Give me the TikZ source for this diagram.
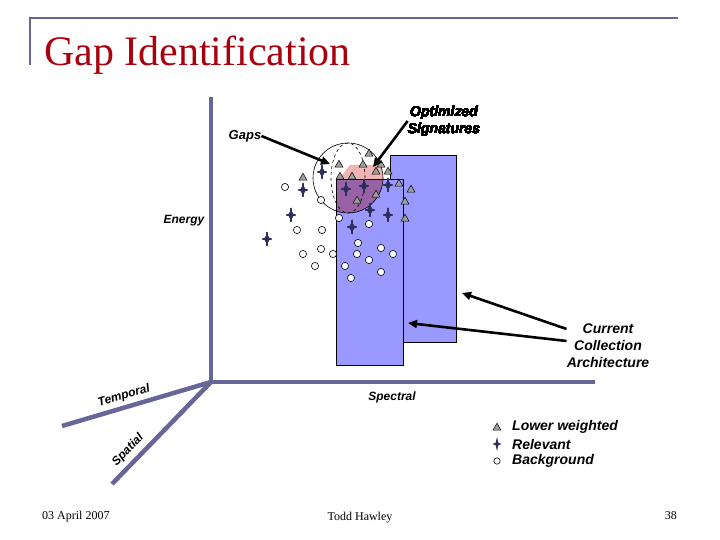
\documentclass[tikz,border=0pt]{standalone}
\usepackage{fontspec}
\setmainfont{Liberation Serif}
\setsansfont{Liberation Sans}
\usetikzlibrary{positioning,arrows.meta,calc}
\definecolor{osabarva}{HTML}{666699}
\definecolor{obdel}{HTML}{9999FF}
\definecolor{ruzova}{HTML}{F0B4B4}
\definecolor{fialova}{HTML}{9A62A6}
\definecolor{titulek}{HTML}{A8000F}
\definecolor{hvezdy}{HTML}{2E2E5C}
\tikzset{
  osa/.style={draw=osabarva,line width=4.5pt},
  ramec/.style={draw=osabarva,line width=2.5pt},
  popis/.style={font=\sffamily\bfseries\itshape\fontsize{14}{17}\selectfont,inner sep=0pt,align=center},
  popisM/.style={font=\sffamily\bfseries\itshape\fontsize{12}{14}\selectfont,inner sep=0pt},
  pata/.style={font=\rmfamily\fontsize{12}{14}\selectfont,inner sep=0pt},
  sipka/.style={-{Triangle[length=9pt,width=8pt]},line width=2.6pt},
  trojuh/.style={draw=black,fill=gray!75,line width=0.5pt},
  kruh/.style={draw=black,fill=white,line width=0.6pt},
  hvezda/.style={fill=hvezdy},
  sloupec/.style={draw=black,fill=obdel,line width=0.8pt},
}
\newcommand\trojuhelnik[1]{\draw[trojuh] #1 ++(-4,3.2) -- ++(8,0) -- ++(-4,-7) -- cycle;}
\newcommand\hvezdicka[1]{\fill[hvezda] #1 ++(0,-7) -- ++(1.3,5.7) -- ++(3.3,1.3) -- ++(-3.3,1.3) -- ++(-1.3,5.7) -- ++(-1.3,-5.7) -- ++(-3.3,-1.3) -- ++(3.3,-1.3) -- cycle;}

\begin{document}
\begin{tikzpicture}[x=1pt,y=-1pt]
  \useasboundingbox (0,0) rectangle (720,540);
  % nadpis
  \coordinate (rA) at (30,65); \coordinate (rB) at (30,18); \coordinate (rC) at (678,18);
  \draw[ramec] (rA) -- (rB) -- (rC);
  \node[anchor=base west,inner sep=0pt,text=titulek,font=\rmfamily\fontsize{42}{42}\selectfont] (nadpis) at (44,66) {Gap Identification};
  % osy
  \coordinate (O) at (211,382); \coordinate (eTop) at (211,97); \coordinate (sEnd) at (595,382);
  \coordinate (tEnd) at (62,426); \coordinate (pEnd) at (112,484);
  \draw[osa] (O) -- (eTop); \draw[osa] (O) -- (sEnd);
  \draw[osa] (O) -- (tEnd); \draw[osa] (O) -- (pEnd);
  % sloupce
  \draw[sloupec] (390,155) rectangle (456,342);
  \begin{scope}
    \clip (348,178) circle (35pt);
    \fill[ruzova] (339,179) -- (350,165) -- (395,165) -- (395,179) -- cycle;
  \end{scope}
  \fill[obdel] (336,179) rectangle (403,365);
  \begin{scope}
    \clip (348,178) circle (35pt);
    \fill[fialova] (336,179) rectangle (403,365);
  \end{scope}
  \draw[line width=0.8pt] (336,179) rectangle (403,365);
  \draw[line width=0.6pt] (348,178) circle (35pt);
  \draw[dashed,line width=0.6pt] (348,178) ellipse (17pt and 35pt);
  % body
  \foreach \x/\y in {285/187,321/200,339/218,297/230,322/230,369/224,358/243,303/254,321/249,333/254,
                     357/254,381/248,393/254,315/266,345/266,369/260,381/272,351/278}
    \draw[kruh] (\x,\y) circle (3.6pt);
  \foreach \x/\y in {369/153,339/164,363/164,381/164,376/171,388/171,303/177,340/176,352/176,
                     399/183,411/189,357/200,376/194,405/201,405/218}
    \trojuhelnik{(\x,\y)}
  \foreach \x/\y in {322/172,303/190,291/215,346/189,364/186,388/185,388/215,352/227,370/210,267/239}
    \hvezdicka{(\x,\y)}
  % popisky
  \node[popis] (opt) at (444,121) {Optimized\\Signatures};
  \node[popisM,font=\sffamily\bfseries\itshape\fontsize{13}{15}\selectfont] (gaps) at (245,136) {Gaps};
  \node[popisM] (energy) at (184,221) {Energy};
  \node[popis] (cur) at (608,346) {Current\\Collection\\Architecture};
  \node[popisM] (spec) at (392,397) {Spectral};
  \node[popisM,rotate=16.5] (temp) at (124,396) {Temporal};
  \node[popisM,rotate=46] (spat) at (128,450) {Spatial};
  % sipky
  \coordinate (gapT) at (330,164); \coordinate (optT) at (373,167);
  \coordinate (curA) at (462,293); \coordinate (curB) at (408,323);
  \draw[sipka] (gaps.east) -- (gapT);
  \draw[sipka] (opt.west) -- (optT);
  \draw[sipka] ([yshift=17pt]cur.west) -- (curA);
  \draw[sipka] ([yshift=5pt]cur.west) -- (curB);
  % legenda
  \trojuhelnik{(497,427)} \hvezdicka{(497,444)} \draw[kruh] (497,461) circle (3.2pt);
  \node[popis,anchor=west] (lgA) at (512,427) {Lower weighted};
  \node[popis,anchor=west] (lgB) at (512,444) {Relevant};
  \node[popis,anchor=west] (lgC) at (512,461) {Background};
  % pata
  \node[pata,anchor=west] (datum) at (42,517) {03 April 2007};
  \node[pata] (autor) at (360,518) {Todd Hawley};
  \node[pata,anchor=east] (strana) at (677,516) {38};
\end{tikzpicture}
\end{document}
